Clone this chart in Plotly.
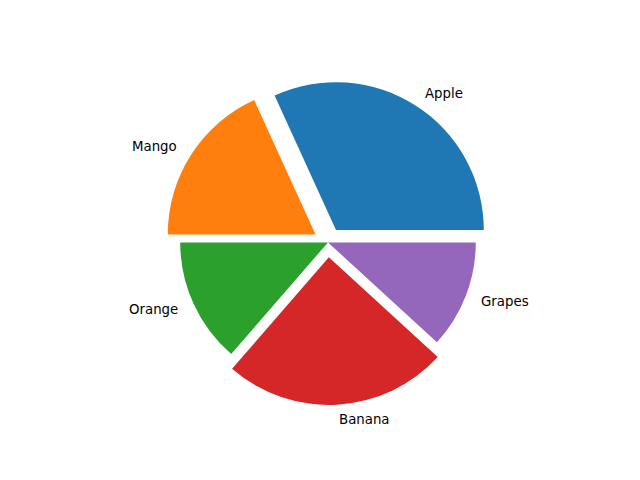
import math
import plotly.graph_objects as go

labels = ["Apple", "Mango", "Orange", "Banana", "Grapes"]
sizes = [35, 20, 15, 27, 13]
explode = [0.1, 0.1, 0.0, 0.1, 0.0]
colors = ["#1f77b4", "#ff7f0e", "#2ca02c", "#d62728", "#9467bd"]

W, H = 640, 480
OFF = 8                 # default page margin of the html body
cx, cy = 328.0 - OFF, 242.4 - OFF   # pie centre in figure pixels (from top-left)
r = 147.8               # pie radius in pixels
maxpull = max(explode)
R = r * (1 + maxpull)

total = sum(sizes)
# plotly: counterclockwise pies put the END of the first slice at `rotation`
# (degrees clockwise from 12 o'clock). Matplotlib starts the first slice at 3 o'clock.
rotation = 90 - 360.0 * sizes[0] / total

fig = go.Figure(go.Pie(
    labels=labels, values=sizes, pull=explode,
    marker=dict(colors=colors, line=dict(width=0)),
    sort=False, direction="counterclockwise", rotation=rotation,
    textinfo="none", hoverinfo="label+value", showlegend=False,
    domain=dict(x=[(cx - R) / W, (cx + R) / W], y=[1 - (cy + R) / H, 1 - (cy - R) / H]),
))

start = 0.0
annotations = []
for lab, v, e in zip(labels, sizes, explode):
    span = 360.0 * v / total
    mid = math.radians(start + span / 2)
    start += span
    d = (1.1 + e) * r
    px = cx + d * math.cos(mid)
    py = cy - d * math.sin(mid)
    annotations.append(dict(
        x=px / W, y=1 - py / H, xref="paper", yref="paper", text=lab, showarrow=False,
        xanchor="left" if math.cos(mid) > 0 else "right", yanchor="middle",
        xshift=-1 if math.cos(mid) > 0 else 0,
        font=dict(family="DejaVu Sans", size=13.33, color="black"),
    ))

fig.update_layout(
    width=W, height=H, margin=dict(l=0, r=0, t=0, b=0),
    paper_bgcolor="white", plot_bgcolor="white", annotations=annotations,
)
fig.write_html("out.html")
